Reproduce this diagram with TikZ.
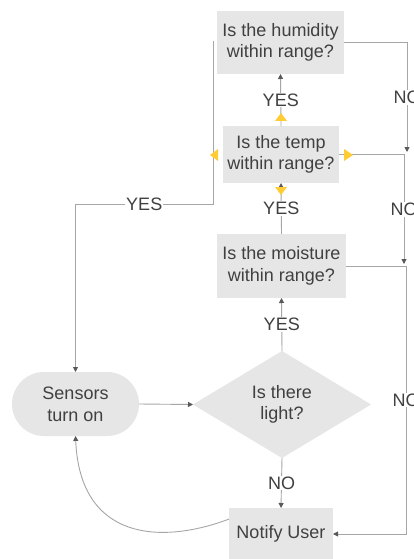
\documentclass[tikz,border=0pt]{standalone}
\usepackage{fontspec}
\setmainfont{Liberation Sans}
\usetikzlibrary{shapes.geometric,arrows.meta}
\definecolor{boxfill}{HTML}{E6E6E6}
\definecolor{txt}{HTML}{404040}
\definecolor{ln}{HTML}{A6A6A6}
\definecolor{tipc}{HTML}{595959}
\definecolor{markc}{HTML}{FFCC33}
\begin{document}
\begin{tikzpicture}[x=1pt,y=-1pt,
  every node/.style={font=\fontsize{18}{21.6}\selectfont, text=txt},
  proc/.style={rectangle, fill=boxfill, inner sep=0pt, outer sep=0pt, align=center},
  conn/.style={draw=ln, line width=0.9pt},
  arr/.style={conn, -{Triangle[length=5pt,width=5pt,fill=tipc,color=tipc]}},
  lbl/.style={fill=white, inner sep=1pt},
  ymark/.style={fill=markc, draw=none}]
\useasboundingbox (0,0) rectangle (413,559);
\fill[white] (0,0) rectangle (413,559);

% nodes
\node[proc, minimum width=127pt, minimum height=63pt] (hum) at (280.5,42.5) {Is the humidity\\within range?};
\node[proc, minimum width=116pt, minimum height=57pt] (temp) at (281,154.5) {Is the temp\\within range?};
\node[proc, minimum width=129pt, minimum height=64pt] (moist) at (281.5,266) {Is the moisture\\within range?};
\node[diamond, fill=boxfill, inner sep=0pt, outer sep=0pt, minimum width=178pt, minimum height=107pt, shape aspect=1.66, align=center] (light) at (282,404.5) {Is there\\light?};
\node[proc, rounded corners=32pt, minimum width=127pt, minimum height=64pt] (sens) at (75.5,404) {Sensors\\turn on};
\node[proc, minimum width=104pt, minimum height=52pt] (notify) at (281,534) {Notify User};

% helper coordinates
\coordinate (hy) at (213,41);
\coordinate (yb) at (213,204);
\coordinate (yc) at (75.5,204);
\coordinate (n1) at (407,152);
\coordinate (n2) at (404,264);
\coordinate (nr) at (406,534);

% connectors
\draw[arr] (light.north) -- node[lbl]{YES} (moist.south);
\draw[arr] (moist.north) -- node[lbl]{YES} (temp.south);
\draw[arr] (temp.north) -- node[lbl]{YES} (hum.south);
\draw[arr] (hy) -- (yb) -- node[lbl]{YES} (yc) -- (sens.north);
\draw[arr] (hum.east) -| node[lbl, pos=0.75]{NO} (n1);
\draw[arr] (temp.east) -| node[lbl, pos=0.75]{NO} (n2);
\draw[arr] (moist.east) -| node[lbl, pos=0.75]{NO} (nr) -- (notify.east);
\draw[arr] (sens.east) -- (light.west);
\draw[arr] (light.south) -- node[lbl]{NO} (notify.north);
\draw[arr] (notify.164) .. controls (160,545) and (80,540) .. (sens.south);

% yellow hover markers
\fill[ymark] (275,121) -- (287,121) -- (281,113) -- cycle;
\fill[ymark] (275,187) -- (287,187) -- (281,195) -- cycle;
\fill[ymark] (218,149) -- (218,161) -- (210,155) -- cycle;
\fill[ymark] (344,149) -- (344,161) -- (353,155) -- cycle;
\end{tikzpicture}
\end{document}
